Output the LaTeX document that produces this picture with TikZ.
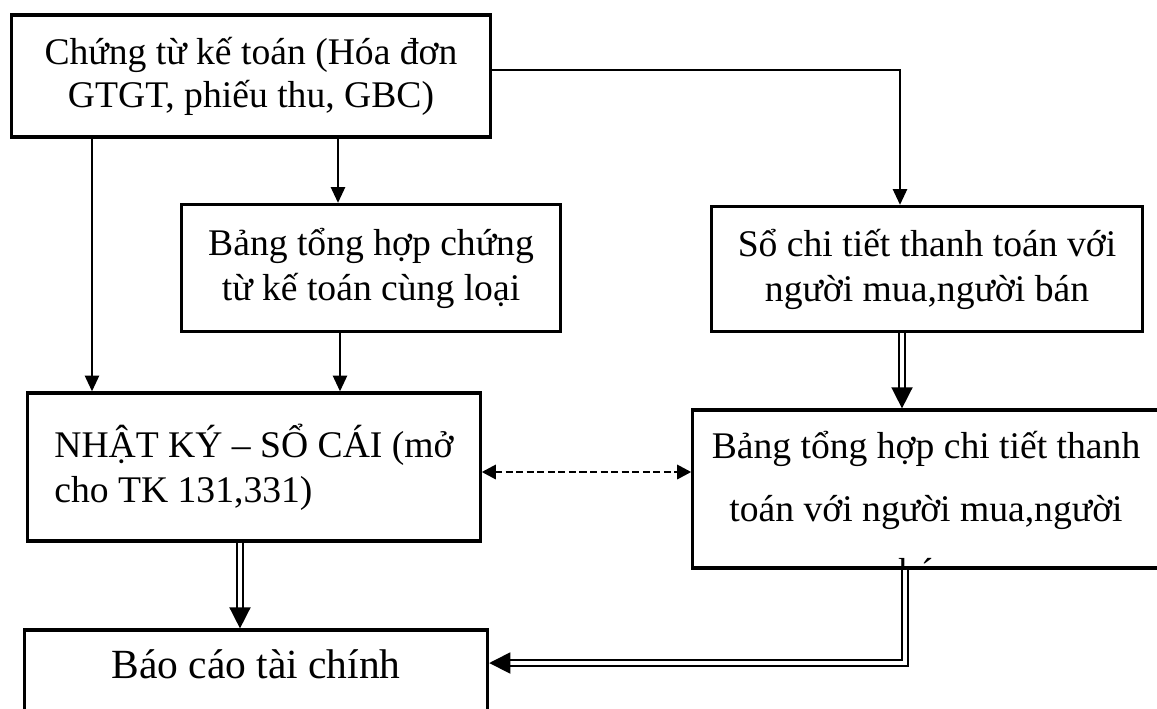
\documentclass[tikz,border=0pt]{standalone}
\usepackage{fontspec}
\setmainfont{Liberation Serif}
\usetikzlibrary{arrows.meta,positioning,calc}

\begin{document}
\begin{tikzpicture}[x=0.01cm,y=-0.01cm,
  every node/.style={font=\fontsize{10.7}{12.2}\selectfont},
  box/.style={draw,line width=0.9pt,inner sep=0pt,align=center},
  arr/.style={-{Triangle[length=4.5pt,width=4pt]},line width=0.7pt},
  dbl/.style={double,double distance=1.1pt,line width=0.45pt,-{Triangle[length=6pt,width=6pt]}},
  dsh/.style={{Triangle[length=4pt,width=4pt]}-{Triangle[length=4pt,width=4pt]},line width=0.8pt,dash pattern=on 2pt off 1pt}]
  \useasboundingbox (0,0) rectangle (1157,708);

  \node[box,minimum width=4.78cm,minimum height=1.22cm] (ctu) at (251,76)
    {Chứng từ kế toán (Hóa đơn\\GTGT, phiếu thu, GBC)};
  \node[box,minimum width=3.78cm,minimum height=1.27cm,font=\fontsize{10.7}{12.8}\selectfont] (bthctu) at (371,268)
    {Bảng tổng hợp chứng\\từ kế toán cùng loại};
  \node[box,minimum width=4.30cm,minimum height=1.25cm,font=\fontsize{10.7}{12.8}\selectfont] (sct) at (927,269)
    {Sổ chi tiết thanh toán với\\người mua,người bán};
  \node[box,minimum width=4.52cm,minimum height=1.48cm,align=left,font=\fontsize{10.7}{12.8}\selectfont] (nkst) at (254,467)
    {NHẬT KÝ – SỔ CÁI (mở\\cho TK 131,331)\hspace{3.6em}};
  \node[box,minimum width=4.72cm,minimum height=1.58cm] (bthct) at (929,489) {};
  \begin{scope}
    \clip (bthct.south west) rectangle (bthct.north east);
    \node[anchor=north,align=center,inner sep=0pt,font=\fontsize{10.7}{17.9}\selectfont] (tbthct) at (926,431)
      {Bảng tổng hợp chi tiết thanh\\toán với người mua,người\\bán};
  \end{scope}
  \node[box,minimum width=4.63cm,minimum height=1.00cm,text depth=0.31cm,font=\fontsize{11.8}{14}\selectfont] (bctc) at (256,680) {Báo cáo tài chính};

  \draw[arr] (ctu.south -| 92,0) -- (nkst.north -| 92,0);
  \draw[arr] (ctu.south -| 338,0) -- (bthctu.north -| 338,0);
  \draw[arr] (ctu.east |- 0,70) -| (sct.north -| 900,0);
  \draw[arr] (bthctu.south -| 340,0) -- (nkst.north -| 340,0);
  \draw[dbl] (sct.south -| 902,0) -- (bthct.north -| 902,0);
  \draw[dsh] (nkst.east |- 0,472) -- (bthct.west |- 0,472);
  \draw[dbl] (nkst.south -| 240,0) -- (bctc.north -| 240,0);
  \draw[dbl] (bthct.south -| 905,0) |- (bctc.east |- 0,663);
\end{tikzpicture}
\end{document}
